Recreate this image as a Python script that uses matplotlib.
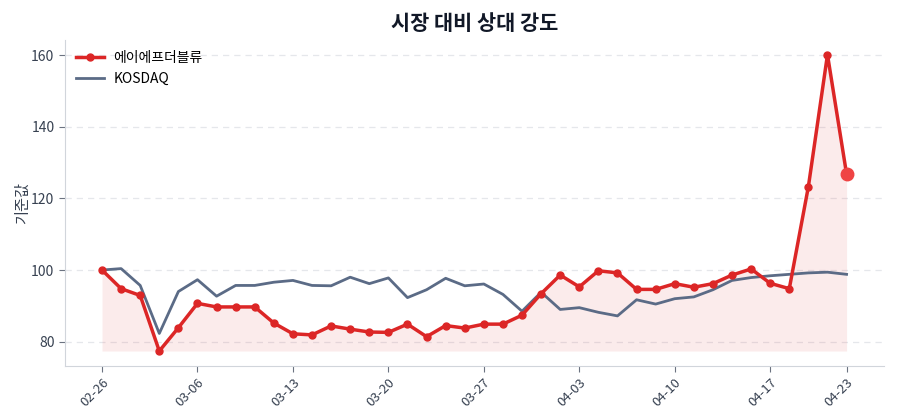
import matplotlib
matplotlib.use("Agg")
import matplotlib.pyplot as plt

plt.rcParams['font.family'] = ['Noto Sans CJK KR', 'DejaVu Sans']

title = "시장 대비 상대 강도"
ylabel = "기준값"
stock_name = "에이에프더블류"
index_name = "KOSDAQ"

tick_idx = [0, 5, 10, 15, 20, 25, 30, 35, 39]
tick_labels = ["02-26", "03-06", "03-13", "03-20", "03-27", "04-03", "04-10", "04-17", "04-23"]

stock = [100.0, 94.8, 92.9, 77.4, 83.9, 90.7, 89.7, 89.7, 89.7, 85.2,
         82.2, 81.9, 84.4, 83.5, 82.7, 82.6, 84.9, 81.4, 84.5, 83.8,
         84.9, 84.9, 87.4, 93.4, 98.6, 95.3, 99.8, 99.2, 94.6, 94.6,
         96.2, 95.2, 96.2, 98.6, 100.3, 96.3, 94.8, 123.3, 160.1, 126.8]

kosdaq = [100.0, 100.4, 95.7, 82.3, 94.0, 97.3, 92.7, 95.7, 95.7, 96.6,
          97.1, 95.7, 95.6, 98.0, 96.2, 97.8, 92.3, 94.5, 97.7, 95.6,
          96.1, 93.2, 88.5, 93.8, 89.0, 89.5, 88.2, 87.2, 91.7, 90.5,
          92.0, 92.5, 94.5, 97.1, 97.9, 98.4, 98.8, 99.2, 99.4, 98.8]

x = list(range(len(stock)))

fig = plt.figure(figsize=(9, 4.2), dpi=100)
ax = fig.add_axes([0.072, 0.129, 0.910, 0.776])

red = "#dc2626"
gray = "#5b6b86"

ax.fill_between(x, stock, min(stock), color=red, alpha=0.09, linewidth=0)
ax.plot(x, stock, color=red, linewidth=2.5, marker="o", markersize=5, label=stock_name, zorder=3)
ax.plot(x, kosdaq, color=gray, linewidth=2, label=index_name, zorder=2)
ax.plot([x[-1]], [stock[-1]], marker="o", markersize=9, color="#ef4444", linestyle="none", zorder=4)

ax.set_xticks(tick_idx)
ax.set_xticklabels(tick_labels, rotation=45, ha="right", rotation_mode="anchor")
ax.set_yticks([80, 100, 120, 140, 160])

ax.grid(axis="y", linestyle=(0, (5, 4)), color="#e5e7eb", linewidth=0.9)
ax.set_axisbelow(True)
for s in ["top", "right"]:
    ax.spines[s].set_visible(False)
for s in ["left", "bottom"]:
    ax.spines[s].set_color("#d1d5db")
ax.tick_params(colors="#374151", labelsize=9.5, length=4)
ax.tick_params(axis="y", labelsize=10)
ax.tick_params(axis="both", color="#6b7280")

ax.set_title(title, fontsize=15, fontweight="bold", color="#111827", pad=7)
ax.set_ylabel(ylabel, fontsize=11, color="#374151", labelpad=0)

leg = ax.legend(loc="upper left", frameon=False, fontsize=10, handlelength=2.0,
                handletextpad=0.7, borderaxespad=0.4)

fig.savefig("out.png", dpi=100)
